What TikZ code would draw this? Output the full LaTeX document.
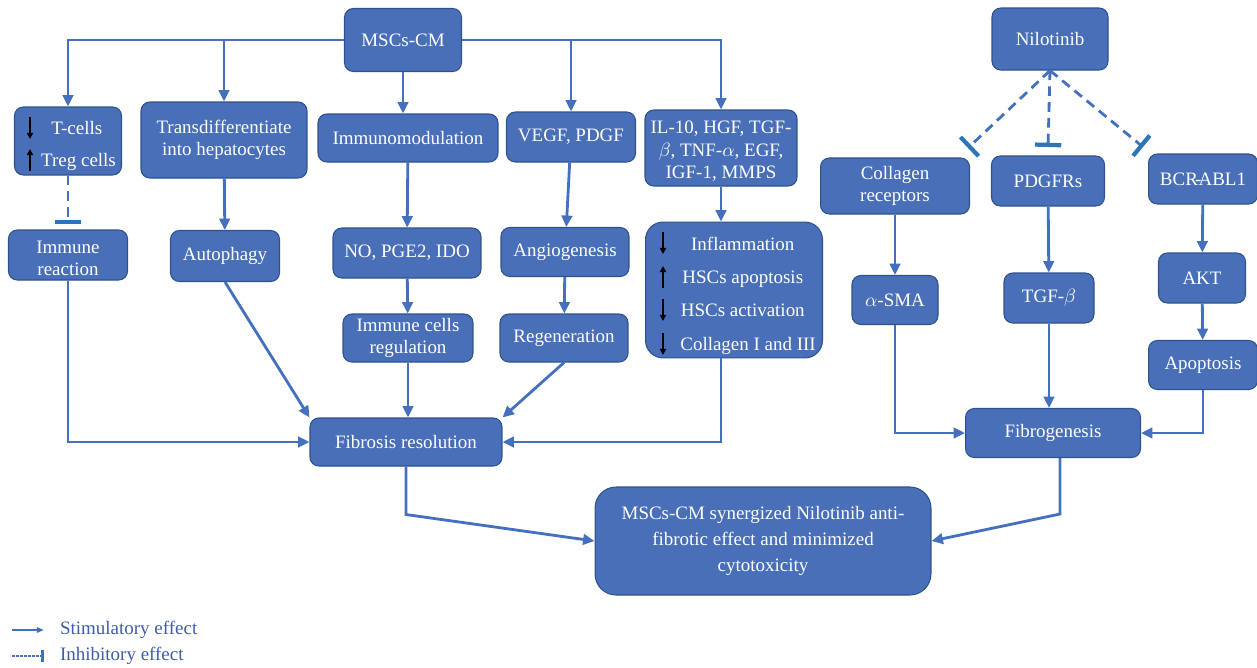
\documentclass[tikz,border=0pt]{standalone}
\usepackage{fontspec}
\setmainfont{Liberation Serif}
\usetikzlibrary{arrows.meta}

\definecolor{boxblue}{RGB}{72,111,183}
\definecolor{edgeblue}{RGB}{47,82,143}
\definecolor{lineblue}{RGB}{68,112,190}
\definecolor{barblue}{RGB}{46,117,182}
\definecolor{legendblue}{RGB}{62,92,168}

\begin{document}
\begin{tikzpicture}[
    x=0.02cm, y=-0.02cm,
    font=\fontsize{10.8}{12.8}\selectfont,
    box/.style={rectangle,rounded corners=5pt,draw=edgeblue,line width=0.6pt,
        fill=boxblue,text=white,align=center,inner sep=2pt},
    line/.style={draw=lineblue,line width=1.6pt},
    arr/.style={line,-{Triangle[length=6.5pt,width=6pt]}},
    inh/.style={line,dash pattern=on 5.5pt off 3.5pt,
        -{Bar[width=15pt,line width=2.4pt,color=barblue]}},
    blk/.style={black,line width=1.2pt,-{Triangle[length=3.5pt,width=3.5pt]}},
    legend/.style={text=legendblue,inner sep=1pt}
]
\useasboundingbox (0,0) rectangle (1257,667);

% MSCs-CM branch
\node[box,minimum width=2.34cm,minimum height=1.26cm] (MSC) at (403,40) {MSCs-CM};

\node[box,minimum width=2.14cm,minimum height=1.36cm] (TC) at (68,141)
    {\rule{0pt}{13pt}\hspace*{10pt}T-cells\\[5pt]\hspace*{12pt}Treg cells};
\node[box,minimum width=3.32cm,minimum height=1.52cm] (TD) at (224,140) {Transdifferentiate\\into hepatocytes};
\node[box,minimum width=3.6cm,minimum height=0.96cm] (IM) at (408,138) {Immunomodulation};
\node[box,minimum width=2.58cm,minimum height=1.0cm] (VP) at (571,137) {VEGF, PDGF};
\node[box,minimum width=3.04cm,minimum height=1.52cm] (IL) at (721,148)
    {\rule{0pt}{11pt}IL-10, HGF, TGF-\\$\beta$, TNF-$\alpha$, EGF,\\IGF-1, MMPS};

\node[box,minimum width=2.38cm,minimum height=1.0cm] (IR) at (68,255) {\rule{0pt}{11pt}Immune\\reaction};
\node[box,minimum width=2.18cm,minimum height=1.02cm] (AU) at (225,256) {Autophagy};
\node[box,minimum width=2.96cm,minimum height=1.0cm] (NO) at (407,253) {NO, PGE2, IDO};
\node[box,minimum width=2.56cm,minimum height=0.98cm] (AN) at (565,252) {Angiogenesis};
\node[box,rounded corners=10pt,minimum width=3.54cm,minimum height=2.64cm] (INF) at (734,290)
    {\rule{0pt}{14pt}\hspace*{10pt}Inflammation\\[6.2pt]\hspace*{10pt}HSCs apoptosis\\[6.2pt]
     \hspace*{10pt}HSCs activation\\[6.2pt]\hspace*{16pt}Collagen I and III};

\node[box,minimum width=2.6cm,minimum height=0.96cm] (ICR) at (408,338) {Immune cells\\regulation};
\node[box,minimum width=2.56cm,minimum height=0.96cm] (RG) at (564,338) {Regeneration};

\node[box,minimum width=3.84cm,minimum height=0.96cm] (FR) at (406,442) {Fibrosis resolution};

% Nilotinib branch
\node[box,minimum width=2.32cm,minimum height=1.24cm] (NIL) at (1050,39) {Nilotinib};
\node[box,minimum width=2.98cm,minimum height=1.12cm] (CR) at (895,186) {Collagen\\receptors};
\node[box,minimum width=2.26cm,minimum height=1.0cm] (PD) at (1048,181) {PDGFRs};
\node[box,minimum width=2.18cm,minimum height=1.0cm] (BA) at (1203,179) {BCR\kern-1.6pt-\kern-1.6pt ABL1};
\node[box,minimum width=1.72cm,minimum height=0.98cm] (SMA) at (895,300) {$\alpha$-SMA};
\node[box,minimum width=1.8cm,minimum height=1.0cm] (TG) at (1049,298) {TGF-$\beta$};
\node[box,minimum width=1.74cm,minimum height=1.0cm] (AKT) at (1202,278) {AKT};
\node[box,minimum width=2.18cm,minimum height=0.98cm] (AP) at (1203,365) {Apoptosis};
\node[box,minimum width=3.5cm,minimum height=0.98cm] (FG) at (1053,433) {Fibrogenesis};

% Outcome
\node[box,rounded corners=12pt,minimum width=6.72cm,minimum height=2.16cm] (FIN) at (763,541)
    {MSCs-CM synergized Nilotinib anti-\\[2pt]fibrotic effect and minimized\\[2pt]cytotoxicity};

% up / down marks inside boxes
\draw[blk] (30,117) -- (30,139);
\draw[blk] (30,171) -- (30,149);
\draw[blk] (663,232) -- (663,254);
\draw[blk] (663,288) -- (663,266);
\draw[blk] (663,299) -- (663,321);
\draw[blk] (663,333) -- (663,355);

% inhibition ends
\coordinate (crb) at (968,148);
\coordinate (pdb) at (1048,147);
\coordinate (bab) at (1143,147);
\coordinate (irb) at (68,224);

% MSCs-CM arrows
\draw[arr] (MSC.west) -| (TC.north);
\draw[arr] (MSC.west) -| (TD.north);
\draw[arr] (MSC.south) -- (MSC.south |- IM.north);
\draw[arr] (MSC.east) -| (VP.north);
\draw[arr] (MSC.east) -| (IL.north);

\draw[inh] (TC.south) -- (irb);
\draw[arr] (TD) -- (AU);
\draw[arr] (IM) -- (NO);
\draw[arr] (VP) -- (AN);
\draw[arr] (IL.south) -- (IL.south |- INF.north);
\draw[arr] (NO) -- (ICR);
\draw[arr] (AN) -- (RG);

\draw[arr] (IR.south) |- (FR.west);
\draw[arr] (AU.south) -- (FR.north west);
\draw[arr] (ICR.south) -- (ICR.south |- FR.north);
\draw[arr] (RG.south) -- (FR.north east);
\draw[arr] (IL.south |- INF.south) |- (FR.east);

\draw[arr] (FR.south) -- ++(0,48) -- (FIN.west);

% Nilotinib arrows
\draw[inh] (NIL.south) -- (crb);
\draw[inh] (NIL.south) -- (pdb);
\draw[inh] (NIL.south) -- (bab);

\draw[arr] (CR) -- (SMA);
\draw[arr] (PD) -- (TG);
\draw[arr] (BA) -- (AKT);
\draw[arr] (AKT) -- (AP);

\draw[arr] (SMA.south) |- (FG.west);
\draw[arr] (TG.south) -- (TG.south |- FG.north);
\draw[arr] (AP.south) |- (FG.east);

\draw[arr] ([xshift=4pt]FG.south) -- ++(0,56) -- (FIN.east);

% Legend
\coordinate (st0) at (12,630);
\coordinate (in0) at (12,656);
\node[legend,anchor=west] (stim) at (58,630) {Stimulatory effect};
\node[legend,anchor=west] (inhib) at (58,656) {Inhibitory effect};
\draw[lineblue,line width=1pt,-{Triangle[length=4pt,width=3pt]},shorten >=8pt] (st0) -- (stim.west);
\draw[lineblue,line width=0.8pt,dash pattern=on 1.5pt off 0.8pt,
    -{Bar[width=7pt,line width=1.5pt]},shorten >=8pt] (in0) -- (inhib.west);

\end{tikzpicture}
\end{document}
